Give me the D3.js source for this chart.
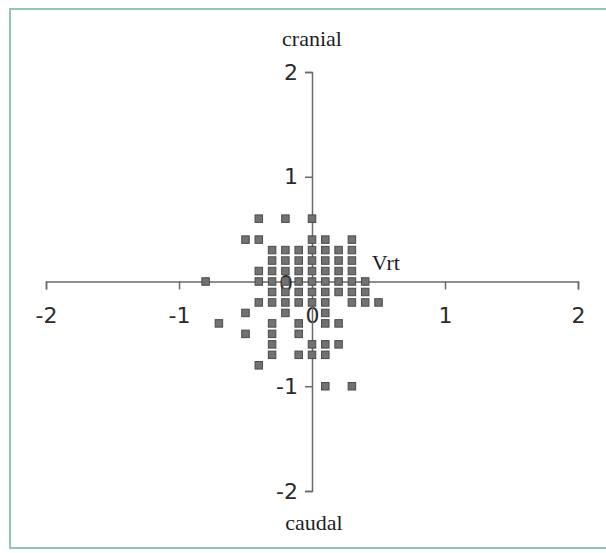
<!DOCTYPE html>
<meta charset="UTF-8">
<style>
    body { margin: 0; background: #fff; }
    .axis path, .axis line { stroke: #6a6a6a; stroke-width: 1.5px; }
    .axis text { font: 22px "DejaVu Sans", sans-serif; fill: #2a2a2a; }
    .lbl { font: 22px "Liberation Serif", serif; fill: #1e1e1e; }
</style>
<body>
<script src="https://d3js.org/d3.v7.min.js"></script>
<script>

// Vrt (x) and cranial/caudal (y) values
var xVals = [
  -0.4, -0.2, 0,
  -0.5, -0.4, 0, 0.1, 0.3,
  -0.3, -0.2, -0.1, 0, 0.1, 0.2, 0.3,
  -0.3, -0.2, -0.1, 0, 0.1, 0.2, 0.3,
  -0.4, -0.3, -0.2, -0.1, 0, 0.1, 0.2, 0.3,
  -0.8, -0.4, -0.3, -0.2, -0.1, 0, 0.1, 0.2, 0.3, 0.4,
  -0.3, -0.2, -0.1, 0, 0.1, 0.2, 0.3, 0.4,
  -0.4, -0.3, -0.2, -0.1, 0, 0.1, 0.3, 0.4, 0.5,
  -0.5, -0.2, 0.1,
  -0.7, -0.3, -0.1, 0.1, 0.2,
  -0.5, -0.3, -0.1,
  -0.3, 0, 0.1, 0.2,
  -0.3, -0.1, 0, 0.1,
  -0.4,
  0.1, 0.3
];
var yVals = [
  0.6, 0.6, 0.6,
  0.4, 0.4, 0.4, 0.4, 0.4,
  0.3, 0.3, 0.3, 0.3, 0.3, 0.3, 0.3,
  0.2, 0.2, 0.2, 0.2, 0.2, 0.2, 0.2,
  0.1, 0.1, 0.1, 0.1, 0.1, 0.1, 0.1, 0.1,
  0, 0, 0, 0, 0, 0, 0, 0, 0, 0,
  -0.1, -0.1, -0.1, -0.1, -0.1, -0.1, -0.1, -0.1,
  -0.2, -0.2, -0.2, -0.2, -0.2, -0.2, -0.2, -0.2, -0.2,
  -0.3, -0.3, -0.3,
  -0.4, -0.4, -0.4, -0.4, -0.4,
  -0.5, -0.5, -0.5,
  -0.6, -0.6, -0.6, -0.6,
  -0.7, -0.7, -0.7, -0.7,
  -0.8,
  -1, -1
];
var tickVals = [-2, -1, 0, 1, 2];
var xTitle = "Vrt", topTitle = "cranial", bottomTitle = "caudal";

var width = 606, height = 553;

var svg = d3.select("body").append("svg")
    .attr("width", width)
    .attr("height", height);

// frame around the chart
svg.append("rect")
    .attr("x", 10).attr("y", 9)
    .attr("width", 640).attr("height", 539)
    .attr("fill", "none")
    .attr("stroke", "#94c4b8")
    .attr("stroke-width", 2);

var x = d3.scaleLinear().domain([-2, 2]).range([46, 578]);
var y = d3.scaleLinear().domain([-2, 2]).range([491, 72]);
var fmt = function(d) { return String(d); };

// x axis through y = 0, ticks pointing down
var xAxis = svg.append("g")
    .attr("class", "axis")
    .attr("transform", "translate(0," + y(0) + ")")
    .call(d3.axisBottom(x).tickValues(tickVals).tickFormat(fmt)
        .tickSize(8).tickSizeOuter(8).tickPadding(18));
xAxis.selectAll(".tick").filter(function(d) { return d === 0; }).select("line").remove();

// y axis through x = 0, ticks pointing left
var yAxis = svg.append("g")
    .attr("class", "axis")
    .attr("transform", "translate(" + x(0) + ",0)")
    .call(d3.axisLeft(y).tickValues(tickVals).tickFormat(fmt)
        .tickSize(7).tickSizeOuter(7).tickPadding(7));
yAxis.selectAll(".tick").filter(function(d) { return d === 0; })
    .select("line").remove();
yAxis.selectAll(".tick").filter(function(d) { return d === 0; })
    .select("text").attr("x", -19).attr("dy", "0.4em");

// points
var pts = xVals.map(function(v, i) { return {x: v, y: yVals[i]}; });
var s = 7.5;
svg.append("g").selectAll("rect")
    .data(pts)
  .enter().append("rect")
    .attr("x", function(d) { return x(d.x) - s / 2; })
    .attr("y", function(d) { return y(d.y) - s / 2; })
    .attr("width", s)
    .attr("height", s)
    .attr("fill", "#727272")
    .attr("stroke", "#4a4a4a")
    .attr("stroke-width", 1);

// axis titles
svg.append("text").attr("class", "lbl")
    .attr("x", x(0)).attr("y", 46)
    .attr("text-anchor", "middle")
    .text(topTitle);
svg.append("text").attr("class", "lbl")
    .attr("x", x(0) + 2).attr("y", 530)
    .attr("text-anchor", "middle")
    .text(bottomTitle);
svg.append("text").attr("class", "lbl")
    .attr("x", x(0.45)).attr("y", 270)
    .text(xTitle);

</script>
</body>
